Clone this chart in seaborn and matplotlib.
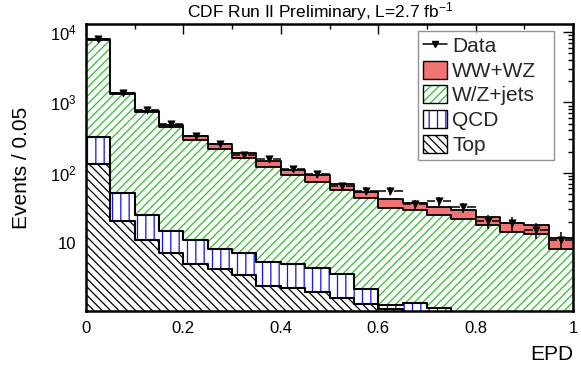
import numpy as np
import pandas as pd
import matplotlib
matplotlib.use("Agg")
import matplotlib.pyplot as plt
import seaborn as sns
from matplotlib.patches import Patch
from matplotlib.lines import Line2D
from matplotlib.legend_handler import HandlerTuple
from matplotlib.ticker import FixedLocator, MultipleLocator, LogLocator, NullFormatter

# EPD binning: 20 bins of width 0.05
bin_width = 0.05
n_bins = 20

# Expected events per bin for each process
top = [135, 20.5, 11, 7.1, 5.1, 4.3, 3.5, 2.44, 2.26, 2.0,
       1.66, 1.34, 1.14, 0.8, 0.6, 0.5, 0.4, 0.3, 0.3, 0.2]
qcd = [183, 30.3, 14, 7.8, 5.9, 3.8, 3.8, 2.96, 2.74, 2.4,
       1.94, 0.86, 0.17, 0.61, 0.61, 0.4, 0.3, 0.3, 0.2, 0.2]
wz_jets = [7400, 1249, 695, 430, 280, 209, 156, 116, 87.5, 69.6,
           53.4, 40.8, 29.7, 28, 23.8, 21.1, 17.3, 13.9, 12.9, 7.8]
ww_wz = [150, 43, 32, 30, 41, 36, 25, 25, 16.5, 18.5,
         11, 10.5, 10.7, 7.9, 7.7, 7.4, 5.6, 5, 4.6, 3.7]

# Observed events per bin
data = [7870, 1340, 780, 490, 330, 255, 180, 155, 112, 95,
        64, 55, 55, 35.4, 39.5, 32, 20.5, 19, 15.2, 11.2]

y_ticks = [10, 100, 1000, 10000]
y_tick_labels = ["10", "$10^{2}$", "$10^{3}$", "$10^{4}$"]
x_ticks = [0, 0.2, 0.4, 0.6, 0.8, 1.0]
x_tick_labels = ["0", "0.2", "0.4", "0.6", "0.8", "1"]

sns.set_theme(style="white")
plt.rcParams["font.family"] = ["Liberation Sans", "DejaVu Sans"]
plt.rcParams["mathtext.fontset"] = "custom"
plt.rcParams["mathtext.rm"] = "Liberation Sans"
plt.rcParams["mathtext.it"] = "Liberation Sans:italic"
plt.rcParams["hatch.linewidth"] = 0.9

edges = [round(i * bin_width, 4) for i in range(n_bins + 1)]
centers = [e + bin_width / 2 for e in edges[:-1]]

df = pd.DataFrame({"epd": centers, "top": top, "qcd": qcd,
                   "wz_jets": wz_jets, "ww_wz": ww_wz, "data": data})
df["c_top"] = df["top"]
df["c_qcd"] = df["c_top"] + df["qcd"]
df["c_wzj"] = df["c_qcd"] + df["wz_jets"]
df["c_all"] = df["c_wzj"] + df["ww_wz"]

fig = plt.figure(figsize=(5.81, 3.68), dpi=100)
ax = fig.add_axes([86 / 581, 1 - 311 / 368, 487 / 581, 287 / 368])
ax.set_yscale("log")

GREEN = "#2fbf2f"
BLUE = "#1010f0"
RED = "#f07474"

HATCH_WZJ = "////"
HATCH_QCD = "||"
HATCH_TOP = "\\\\\\\\"

# Stacked layers drawn from the top of the stack downwards
layers = [
    ("c_all", RED, RED, None),
    ("c_wzj", "white", GREEN, HATCH_WZJ),
    ("c_qcd", "white", BLUE, HATCH_QCD),
    ("c_top", "white", "black", HATCH_TOP),
]
for col, face, hcol, hatch in layers:
    sns.histplot(data=df, x="epd", weights=col, bins=edges, element="bars",
                 fill=True, ax=ax, facecolor=face, edgecolor=hcol,
                 hatch=hatch, linewidth=0, alpha=1, shrink=1)

# Black outlines of each stacked component
for col, lw in [("c_all", 1.3), ("c_wzj", 1.3), ("c_qcd", 1.5), ("c_top", 1.5)]:
    sns.histplot(data=df, x="epd", weights=col, bins=edges, element="step",
                 fill=False, ax=ax, color="black", linewidth=lw)

# Data points: vertical Poisson errors, horizontal bin-width bars with a gap
ax.errorbar(df["epd"], df["data"], yerr=np.sqrt(df["data"]), fmt="none",
            ecolor="black", elinewidth=1.1, capsize=0, zorder=6)
gap = 0.008
ax.hlines(df["data"], df["epd"] - bin_width / 2, df["epd"] - gap,
          color="black", linewidth=1.1, zorder=6)
ax.hlines(df["data"], df["epd"] + gap, df["epd"] + bin_width / 2,
          color="black", linewidth=1.1, zorder=6)
sns.scatterplot(data=df, x="epd", y="data", marker="v", color="black",
                edgecolor="black", s=28, ax=ax, zorder=7, legend=False)

ax.set_xlim(0, 1)
ax.set_ylim(1.08, 1.3e4)

ax.xaxis.set_major_locator(FixedLocator(x_ticks))
ax.set_xticklabels(x_tick_labels)
ax.xaxis.set_minor_locator(MultipleLocator(0.1))
ax.yaxis.set_major_locator(FixedLocator(y_ticks))
ax.set_yticklabels(y_tick_labels)
ax.yaxis.set_minor_locator(LogLocator(base=10, subs=np.arange(2, 10)))
ax.yaxis.set_minor_formatter(NullFormatter())

ax.tick_params(which="both", direction="in", top=True, right=True,
               color="black", labelsize=12, labelcolor="black")
ax.tick_params(which="major", length=7, width=1.0)
ax.tick_params(which="minor", length=3.5, width=1.0)
ax.tick_params(axis="x", which="major", pad=7)
ax.tick_params(axis="y", which="major", pad=7)

for sp in ax.spines.values():
    sp.set_visible(True)
    sp.set_color("black")
    sp.set_linewidth(1.8)

ax.set_xlabel("EPD", fontsize=15, loc="right", color="black")
ax.xaxis.set_label_coords(1.0, -0.118)
ax.set_ylabel("Events / 0.05", fontsize=15, color="black")
ax.yaxis.set_label_coords(-0.112, 0.5)

fig.text(320 / 581, 1 - 12 / 368, "CDF Run II Preliminary, L=2.7 fb$^{-1}$",
         ha="center", va="center", fontsize=12.5, color="black")


def boxed(face, hcol, hatch):
    return (Patch(facecolor=face, edgecolor=hcol, hatch=hatch, linewidth=0),
            Patch(fill=False, edgecolor="black", linewidth=1))


handles = [
    Line2D([0], [0], color="black", marker="v", markersize=5, linewidth=1.1),
    boxed(RED, RED, None),
    boxed("white", GREEN, HATCH_WZJ),
    boxed("white", BLUE, HATCH_QCD),
    boxed("white", "black", HATCH_TOP),
]
labels = ["Data", "WW+WZ", "W/Z+jets", "QCD", "Top"]
leg = ax.legend(handles, labels, loc="upper left",
                bbox_to_anchor=((418 - 86) / 487, 0.5, (554 - 418) / 487, 0.477),
                mode="expand", borderaxespad=0,
                fontsize=15, frameon=True, fancybox=False,
                edgecolor="#777777", handlelength=1.15, handleheight=0.95,
                handletextpad=0.25, labelspacing=0.22, borderpad=0.25,
                handler_map={tuple: HandlerTuple(ndivide=1, pad=0)})
leg.get_frame().set_linewidth(1.0)
leg.set_zorder(10)

fig.savefig("out.png", dpi=100)
